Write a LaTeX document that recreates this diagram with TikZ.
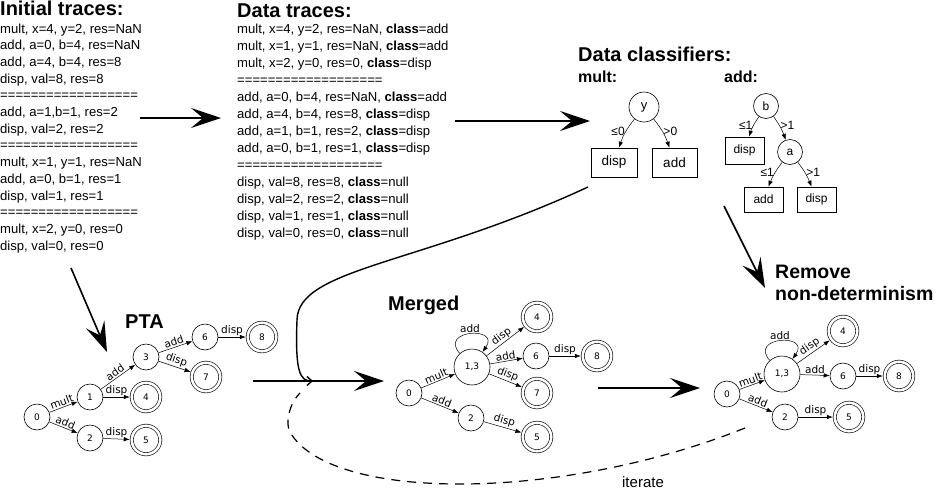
\documentclass[tikz,border=0pt]{standalone}
\usepackage{fontspec}
\setmainfont{Liberation Sans}
\newfontfamily\gfont{DejaVu Sans}
\usetikzlibrary{arrows.meta}
\begin{document}
\begin{tikzpicture}[x=1pt,y=-1pt,
  title/.style={font=\fontsize{20}{24}\selectfont\bfseries, anchor=base west, inner sep=0pt},
  sub/.style={font=\fontsize{16}{19}\selectfont\bfseries, anchor=base west, inner sep=0pt},
  trace/.style={font=\fontsize{13.1}{16}\selectfont, anchor=base west, inner sep=0pt},
  bigarrow/.style={line width=1.6pt, -{Stealth[length=30pt,width=20pt,inset=12pt]}},
  state/.style={circle, draw, line width=0.6pt, minimum size=26pt, inner sep=0pt, font=\gfont\fontsize{9}{10}\selectfont},
  acc/.style={state, double, double distance=2.6pt, minimum size=28.5pt, outer sep=2pt},
  bigstate/.style={minimum size=36pt},
  ga/.style={line width=0.5pt, -{Latex[length=6pt,width=4.5pt]}},
  el/.style={font=\gfont\fontsize{10.5}{12}\selectfont, inner sep=1pt},
  selfloop/.style={ga, loop, out=132, in=55, looseness=1, min distance=32pt},
  tcirc/.style={circle, draw, line width=0.6pt, inner sep=0pt, font=\fontsize{13}{15}\selectfont},
  tbox/.style={rectangle, draw, line width=0.6pt, inner sep=0pt},
  tl/.style={font=\fontsize{12}{14}\selectfont, inner sep=1pt},
]
\useasboundingbox (0,0) rectangle (936,490);
\fill[white] (0,0) rectangle (936,490);

% ---------- Initial traces ----------
\node[title] (tinit) at (0,15) {Initial traces:};
\foreach \t [count=\i from 0] in {
  {mult, x=4, y=2, res=NaN},
  {add, a=0, b=4, res=NaN},
  {add, a=4, b=4, res=8},
  {disp, val=8, res=8},
  {==================},
  {add, a=1,b=1, res=2},
  {disp, val=2, res=2},
  {==================},
  {mult, x=1, y=1, res=NaN},
  {add, a=0, b=1, res=1},
  {disp, val=1, res=1},
  {==================},
  {mult, x=2, y=0, res=0},
  {disp, val=0, res=0}}
  \node[trace] (it\i) at (0,{33+16.7*\i}) {\t};

% ---------- Data traces ----------
\node[title] (tdata) at (237,17) {Data traces:};
\foreach \t [count=\i from 0] in {
  {mult, x=4, y=2, res=NaN, \textbf{class}=add},
  {mult, x=1, y=1, res=NaN, \textbf{class}=add},
  {mult, x=2, y=0, res=0, \textbf{class}=disp},
  {===================},
  {add, a=0, b=4, res=NaN, \textbf{class}=add},
  {add, a=4, b=4, res=8, \textbf{class}=disp},
  {add, a=1, b=1, res=2, \textbf{class}=disp},
  {add, a=0, b=1, res=1, \textbf{class}=disp},
  {===================},
  {disp, val=8, res=8, \textbf{class}=null},
  {disp, val=2, res=2, \textbf{class}=null},
  {disp, val=1, res=1, \textbf{class}=null},
  {disp, val=0, res=0, \textbf{class}=null}}
  \node[trace] (dt\i) at (237,{33+17*\i}) {\t};

% ---------- Data classifiers ----------
\node[title] (tclass) at (578,61) {Data classifiers:};
\node[sub] (tmult) at (578,82) {mult:};
\node[sub] (tadd) at (724,82) {add:};

\node[tcirc, minimum size=30pt] (ty) at (644,107) {y};
\node[tbox, minimum width=46pt, minimum height=29pt, font=\fontsize{13.5}{15}\selectfont] (td1) at (614,162.5) {disp};
\node[tbox, minimum width=45pt, minimum height=29pt, font=\fontsize{13.5}{15}\selectfont] (ta1) at (674.5,162.5) {add};
\draw[ga] (ty) to[bend right=10] node[tl,left,pos=0.45] {≤0} (td1);
\draw[ga] (ty) to[bend left=10] node[tl,right,pos=0.45] {>0} (ta1);

\node[tcirc, minimum size=25pt, font=\fontsize{12}{14}\selectfont] (tb) at (766,106) {b};
\node[tbox, minimum width=39pt, minimum height=27pt, font=\fontsize{12}{14}\selectfont] (td2) at (744.5,150.5) {disp};
\node[tcirc, minimum size=25pt, font=\fontsize{12}{14}\selectfont] (tac) at (790,152) {a};
\node[tbox, minimum width=39pt, minimum height=25pt, font=\fontsize{12}{14}\selectfont] (ta2) at (763.5,199.5) {add};
\node[tbox, minimum width=39pt, minimum height=25pt, font=\fontsize{12}{14}\selectfont] (td3) at (816.5,199.5) {disp};
\draw[ga] (tb) to[bend right=8] node[tl,left,pos=0.45] {≤1} (td2);
\draw[ga] (tb) to[bend left=8] node[tl,right,pos=0.4] {>1} (tac);
\draw[ga] (tac) to[bend right=8] node[tl,left,pos=0.45] {≤1} (ta2);
\draw[ga] (tac) to[bend left=8] node[tl,right,pos=0.45] {>1} (td3);

% ---------- PTA ----------
\node[title] (tpta) at (125,328) {PTA};
\node[state] (p0) at (37,417) {0};
\node[state] (p1) at (90,397) {1};
\node[state] (p2) at (90,438) {2};
\node[state] (p3) at (146,357) {3};
\node[acc]   (p4) at (146,397) {4};
\node[acc]   (p5) at (146,440) {5};
\node[state] (p6) at (205,337) {6};
\node[acc]   (p7) at (206,377) {7};
\node[acc]   (p8) at (262,337) {8};
\draw[ga] (p0) -- node[el,sloped,above] {mult} (p1);
\draw[ga] (p0) -- node[el,sloped,above] {add} (p2);
\draw[ga] (p1) -- node[el,sloped,above] {add} (p3);
\draw[ga] (p1) -- node[el,above] {disp} (p4);
\draw[ga] (p2) -- node[el,above] {disp} (p5);
\draw[ga] (p3) -- node[el,sloped,above] {add} (p6);
\draw[ga] (p3) -- node[el,sloped,above] {disp} (p7);
\draw[ga] (p6) -- node[el,above] {disp} (p8);

% ---------- Merged ----------
\node[title] (tmerged) at (388,310) {Merged};
\node[state] (m0) at (409,393) {0};
\node[state,bigstate] (m13) at (472,367) {1,3};
\node[acc]   (m4) at (537,317) {4};
\node[state] (m6) at (536,356) {6};
\node[acc]   (m8) at (597,356) {8};
\node[acc]   (m7) at (537,393) {7};
\node[state] (m2) at (471,418) {2};
\node[acc]   (m5) at (537,437) {5};
\draw[ga] (m0) -- node[el,sloped,above] {mult} (m13);
\draw[ga] (m0) -- node[el,sloped,above] {add} (m2);
\path (m13) edge[selfloop] node[el,above] {add} (m13);
\draw[ga] (m13) -- node[el,sloped,above] {disp} (m4);
\draw[ga] (m13) -- node[el,sloped,above] {add} (m6);
\draw[ga] (m13) -- node[el,sloped,above] {disp} (m7);
\draw[ga] (m6) -- node[el,above] {disp} (m8);
\draw[ga] (m2) -- node[el,sloped,above] {disp} (m5);

% ---------- Remove non-determinism ----------
\node[title, font=\fontsize{19.5}{24}\selectfont\bfseries] (trem1) at (775,278) {Remove};
\node[title, font=\fontsize{19.5}{24}\selectfont\bfseries] (trem2) at (775,300) {non-determinism};
\node[state] (r0) at (727,394) {0};
\node[state,bigstate] (r13) at (782,374) {1,3};
\node[acc]   (r4) at (843,331) {4};
\node[state] (r6) at (843,376) {6};
\node[acc]   (r8) at (899,376) {8};
\node[state] (r2) at (785,417) {2};
\node[acc]   (r5) at (849,417) {5};
\draw[ga] (r0) -- node[el,sloped,above] {mult} (r13);
\draw[ga] (r0) -- node[el,sloped,above] {add} (r2);
\path (r13) edge[selfloop] node[el,above] {add} (r13);
\draw[ga] (r13) -- node[el,sloped,above] {disp} (r4);
\draw[ga] (r13) -- node[el,above] {add} (r6);
\draw[ga] (r6) -- node[el,above] {disp} (r8);
\draw[ga] (r2) -- node[el,above] {disp} (r5);

% ---------- big arrows ----------
\coordinate (a1s) at (140,118); \coordinate (a1e) at (221,118);
\coordinate (a2s) at (455,121); \coordinate (a2e) at (590,121);
\coordinate (a3s) at (71,268);  \coordinate (a3e) at (107,352);
\coordinate (a4s) at (724,206); \coordinate (a4e) at (765,288);
\coordinate (a5s) at (253,381); \coordinate (a5e) at (384,381);
\coordinate (a6s) at (598,388); \coordinate (a6e) at (700,388);
\draw[bigarrow] (a1s) -- (a1e);
\draw[bigarrow] (a2s) -- (a2e);
\draw[bigarrow] (a3s) -- (a3e);
\draw[bigarrow] (a4s) -- (a4e);
\draw[bigarrow] (a5s) -- (a5e);
\draw[bigarrow] (a6s) -- (a6e);

% ---------- feedback curve from classifier ----------
\coordinate (cs) at (588,187);
\coordinate (cj) at (313,381);
\draw[line width=1.4pt, -{Straight Barb[length=5pt,width=9pt]}]
  (cs) .. controls (420,265) and (298,268) .. (297,320)
       .. controls (295,372) and (300,381) .. (cj);

% ---------- iterate ----------
\coordinate (ds) at (745,428);
\coordinate (de) at (300,393);
\draw[line width=1.2pt, dash pattern=on 9pt off 7pt]
  (ds) .. controls (560,502) and (330,502) .. (290,432)
       .. controls (285,423) and (289,404) .. (de);
\node[font=\fontsize{15}{18}\selectfont, inner sep=0pt] (iter) at (643,482) {iterate};
\end{tikzpicture}
\end{document}
